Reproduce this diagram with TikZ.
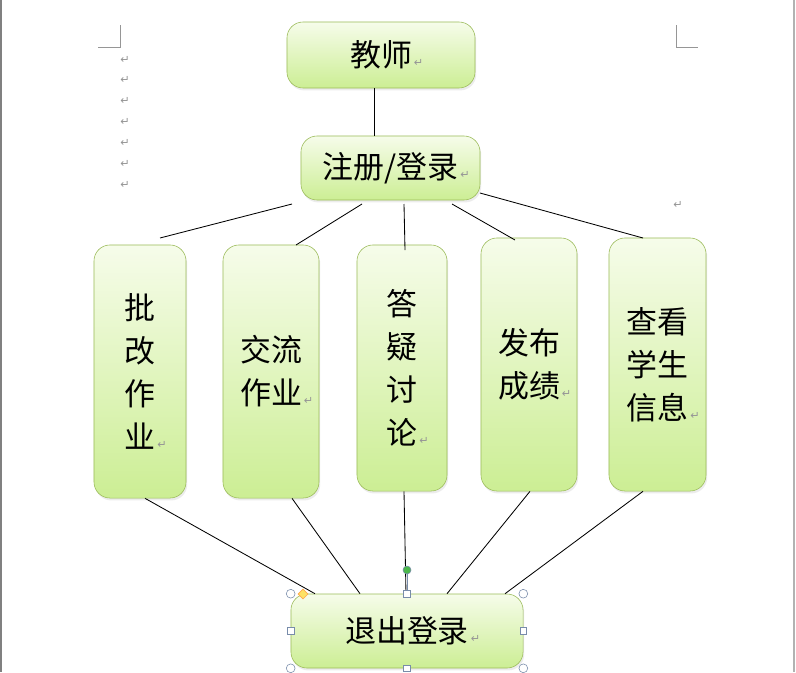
\documentclass[tikz,border=0pt]{standalone}
\usepackage{fontspec}
\newfontfamily\cjk{Noto Sans CJK SC}
\newfontfamily\dejavu{DejaVu Sans}
\usetikzlibrary{shapes.geometric,shadows}

\definecolor{boxline}{RGB}{155,187,89}
\definecolor{boxtop}{RGB}{246,252,234}
\definecolor{boxbot}{RGB}{204,238,148}
\definecolor{markgray}{RGB}{150,150,150}
\definecolor{handleline}{RGB}{120,140,170}

\newcommand\retmark{\rlap{\fontsize{8}{8}\selectfont\dejavu\color{markgray}\,↵}}

\tikzset{
  box/.style={draw=boxline, rounded corners=4mm, top color=boxtop, bottom color=boxbot,
    align=center, font=\cjk\fontsize{22}{30.5}\selectfont, inner sep=0pt,
    drop shadow={opacity=0.15, shadow xshift=0.3mm, shadow yshift=-0.6mm}},
  link/.style={black, line width=0.6pt},
  cornermark/.style={markgray, line width=0.5pt},
  handle/.style={draw=handleline, fill=white, inner sep=0pt, line width=0.4pt}
}

\begin{document}
\begin{tikzpicture}[x=0.025cm,y=-0.025cm]
  \useasboundingbox (0,0) rectangle (796,672);
  \fill[white] (0,0) rectangle (796,672);
  \draw[gray, line width=1pt] (1,0) -- (1,672);
  \draw[gray!60, line width=0.8pt] (794,0) -- (794,672);

  % page corners and paragraph marks
  \draw[cornermark] (98,47) -- (120,47) -- (120,25);
  \draw[cornermark] (676,25) -- (676,47) -- (698,47);
  \foreach \y in {60,80,101,122,143,164,185}
    \node[inner sep=0pt, font=\dejavu\fontsize{8}{8}\selectfont, markgray] at (125,\y) {↵};
  \node[inner sep=0pt, font=\dejavu\fontsize{8}{8}\selectfont, markgray] at (678,205) {↵};

  % boxes
  \node[box, minimum width=4.7cm, minimum height=1.65cm] (teacher) at (381,55) {教师\retmark};
  \node[box, minimum width=4.475cm, minimum height=1.6cm] (login) at (390.5,168) {注册/登录\retmark};
  \node[box, minimum width=2.3cm, minimum height=6.325cm] (grade) at (140,371.5) {批\\改\\作\\业\retmark};
  \node[box, minimum width=2.4cm, minimum height=6.325cm] (talk) at (271,371.5) {交流\\作业\retmark};
  \node[box, minimum width=2.25cm, minimum height=6.15cm] (answer) at (402,368) {答\\疑\\讨\\论\retmark};
  \node[box, minimum width=2.4cm, minimum height=6.325cm] (score) at (529,364.5) {发布\\成绩\retmark};
  \node[box, minimum width=2.425cm, minimum height=6.325cm] (info) at (657.5,364.5) {查看\\学生\\信息\retmark};
  \node[box, minimum width=5.8cm, minimum height=1.85cm] (logout) at (407,631) {退出登录\retmark};

  % loose ends of the connectors
  \coordinate (u1) at (292,204);
  \coordinate (u2) at (362,204);
  \coordinate (u3) at (404,204);
  \coordinate (u4) at (452,204);
  \coordinate (u5) at (480,193);
  \coordinate (v1) at (160,238);
  \coordinate (v2) at (296,245);
  \coordinate (v3) at (405,250);
  \coordinate (v4) at (515,240);
  \coordinate (v5) at (643,238);

  \draw[link] (teacher.south -| 374,0) -- (login.north -| 374,0);
  \draw[link] (u1) -- (v1);
  \draw[link] (u2) -- (v2);
  \draw[link] (u3) -- (v3);
  \draw[link] (u4) -- (v4);
  \draw[link] (u5) -- (v5);

  \draw[link] (grade.south -| 145,0) -- (logout.north -| 315,0);
  \draw[link] (talk.south -| 292,0) -- (logout.north -| 360,0);
  \draw[link] (answer.south -| 404,0) -- (logout.north -| 406,0);
  \draw[link] (score.south -| 530,0) -- (logout.north -| 447,0);
  \draw[link] (info.south -| 643,0) -- (logout.north -| 505,0);

  % selection handles of the last box
  \draw[handleline, line width=0.4pt] (logout.north) -- (407,570);
  \node[handle, circle, fill=green!60!black!70, minimum size=0.2cm] (rot) at (407,570) {};
  \foreach \a in {north west,north east,south west,south east}
    \node[handle, circle, minimum size=0.22cm] at (logout.\a) {};
  \foreach \a in {north,south,west,east}
    \node[handle, minimum size=0.17cm] at (logout.\a) {};
  \node[handle, diamond, draw=orange!70, fill=yellow!70!orange!60, minimum size=0.25cm] (adj) at (303,594) {};
\end{tikzpicture}
\end{document}
